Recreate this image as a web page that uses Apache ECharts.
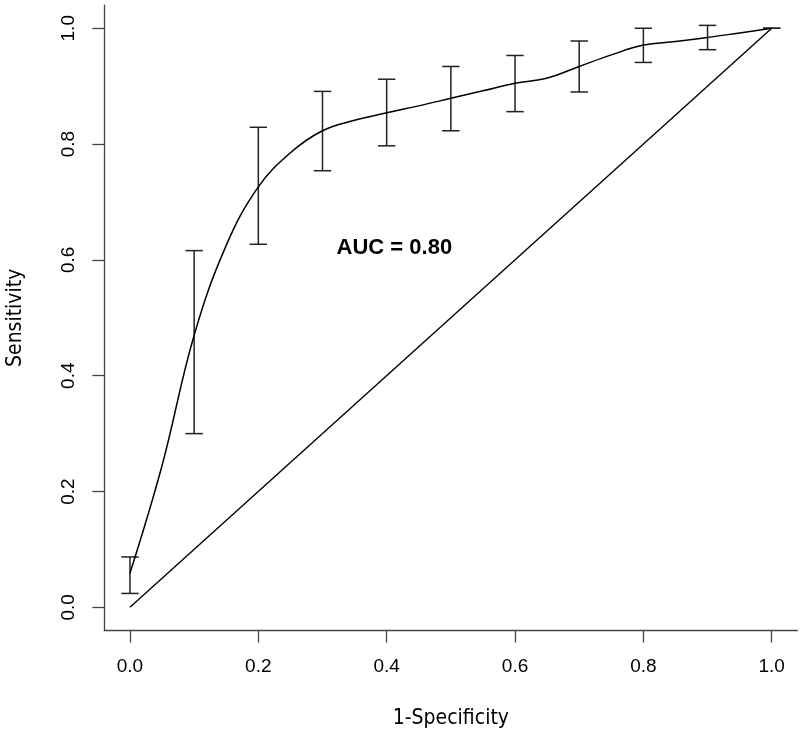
<!DOCTYPE html>
<html>
<head>
<meta charset="utf-8">
<script src="https://cdn.jsdelivr.net/npm/echarts@6/dist/echarts.min.js"></script>
<style>
html,body{margin:0;padding:0;background:#fff;}
#chart{width:800px;height:736px;}
</style>
</head>
<body>
<div id="chart"></div>
<script>
// Tick values
const xTicks = [0, 0.2, 0.4, 0.6, 0.8, 1.0];
const yTicks = [0, 0.2, 0.4, 0.6, 0.8, 1.0];

// Error bars: x position, lower bound, upper bound
const barX    = [0.0,   0.1,   0.2,   0.3,   0.4,   0.5,   0.6,   0.7,   0.8,   0.9,   1.0];
const barLow  = [0.024, 0.300, 0.627, 0.754, 0.797, 0.823, 0.856, 0.890, 0.941, 0.963, 1.000];
const barHigh = [0.087, 0.616, 0.829, 0.891, 0.912, 0.934, 0.953, 0.978, 1.000, 1.005, 1.000];

// Smoothed ROC curve
const curveX = [0.0,   0.05,  0.1,   0.15,  0.2,   0.25,  0.3,   0.35,  0.4,   0.45,  0.5,   0.55,  0.6,   0.65,  0.7,   0.75,  0.8,   0.85,  0.9,   0.95,  1.0];
const curveY = [0.059, 0.245, 0.470, 0.625, 0.726, 0.785, 0.823, 0.841, 0.854, 0.866, 0.879, 0.892, 0.905, 0.914, 0.934, 0.954, 0.971, 0.977, 0.984, 0.992, 1.000];

// Chance diagonal
const diagX = [0, 1];
const diagY = [0, 1];

// Annotation
const aucText = 'AUC = 0.80';
const aucPos = [0.412, 0.62];

const chart = echarts.init(document.getElementById('chart'), null, {renderer: 'canvas'});

const titleFont = '"DejaVu Sans Condensed", "DejaVu Sans", sans-serif';
const tickFont = '"Liberation Sans", Arial, sans-serif';

const option = {
  animation: false,
  backgroundColor: '#ffffff',
  grid: { left: 104.3, right: 2.6, top: 5.1, bottom: 105.5, containLabel: false, outerBoundsMode: 'none' },
  xAxis: {
    type: 'value',
    min: -0.04, max: 1.04,
    name: '1-Specificity',
    nameLocation: 'middle',
    nameGap: 78,
    nameTextStyle: { fontFamily: titleFont, fontSize: 21, color: '#000' },
    axisLine: { show: true, onZero: false, lineStyle: { color: '#444', width: 1.3 } },
    axisTick: { show: true, customValues: xTicks, length: 12, lineStyle: { color: '#444', width: 1.3 } },
    axisLabel: { customValues: xTicks, formatter: v => v.toFixed(1), margin: 27, fontFamily: tickFont, fontSize: 19, color: '#000' },
    splitLine: { show: false }
  },
  yAxis: {
    type: 'value',
    min: -0.04, max: 1.04,
    name: 'Sensitivity',
    nameLocation: 'middle',
    nameGap: 78,
    nameTextStyle: { fontFamily: titleFont, fontSize: 21, color: '#000' },
    axisLine: { show: true, onZero: false, lineStyle: { color: '#444', width: 1.3 } },
    axisTick: { show: true, customValues: yTicks, length: 12, lineStyle: { color: '#444', width: 1.3 } },
    axisLabel: { customValues: yTicks, formatter: v => v.toFixed(1), rotate: 90, margin: 26, fontFamily: tickFont, fontSize: 19, color: '#000' },
    splitLine: { show: false }
  },
  series: [
    {
      type: 'line',
      data: diagX.map((x, i) => [x, diagY[i]]),
      showSymbol: false,
      lineStyle: { color: '#000', width: 1.4 },
      silent: true
    },
    {
      type: 'line',
      data: curveX.map((x, i) => [x, curveY[i]]),
      showSymbol: false,
      smooth: 0.4,
      lineStyle: { color: '#000', width: 1.5 },
      silent: true
    },
    {
      type: 'custom',
      data: barX.map((x, i) => [x, barLow[i], barHigh[i]]),
      renderItem: function (params, api) {
        const x = api.value(0);
        const lo = api.coord([x, api.value(1)]);
        const hi = api.coord([x, api.value(2)]);
        const hw = 8.7;
        const style = { stroke: '#222', lineWidth: 1.5, fill: null };
        return {
          type: 'group',
          children: [
            { type: 'line', shape: { x1: lo[0], y1: lo[1], x2: hi[0], y2: hi[1] }, style: style },
            { type: 'line', shape: { x1: lo[0] - hw, y1: lo[1], x2: lo[0] + hw, y2: lo[1] }, style: style },
            { type: 'line', shape: { x1: hi[0] - hw, y1: hi[1], x2: hi[0] + hw, y2: hi[1] }, style: style }
          ]
        };
      },
      silent: true,
      z: 3
    },
    {
      type: 'scatter',
      data: [aucPos],
      symbolSize: 0,
      silent: true,
      itemStyle: { opacity: 1 },
      label: {
        show: true,
        position: 'inside',
        formatter: aucText,
        fontFamily: '"Liberation Sans", Arial, sans-serif',
        fontWeight: 'bold',
        fontSize: 22,
        color: '#000',
        textBorderWidth: 0
      }
    }
  ]
};

chart.setOption(option);
</script>
</body>
</html>
